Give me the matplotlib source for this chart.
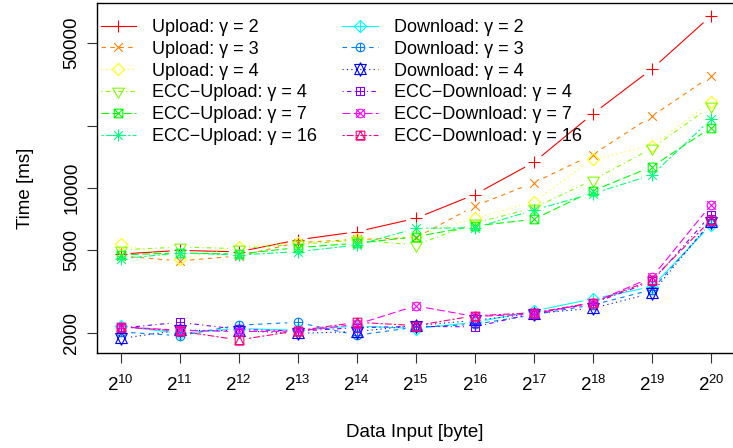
import numpy as np
import matplotlib
matplotlib.use("Agg")
import matplotlib.pyplot as plt
from matplotlib.path import Path
from matplotlib.lines import Line2D
from matplotlib.ticker import NullLocator

plt.rcParams['font.family'] = ['Liberation Sans', 'DejaVu Sans']

# data: input size exponent (bytes = 2**k) and time in ms
exponents = np.arange(10, 21)
sizes = 2.0 ** exponents

upload_g2 = [4800, 5000, 4920, 5620, 6150, 7140, 9300, 13300, 22800, 37500, 67600]
upload_g3 = [4700, 4450, 4700, 5450, 5650, 5750, 8190, 10600, 14500, 22200, 34600]
upload_g4 = [5370, 4550, 5210, 5430, 5650, 5880, 7140, 8590, 13750, 15990, 26040]
ecc_up_g4 = [5030, 5190, 5100, 5350, 5600, 5310, 6780, 8010, 10930, 15530, 24820]
ecc_up_g7 = [4760, 4860, 4800, 5160, 5410, 5820, 6560, 7060, 9700, 12670, 19520]
ecc_up_g16 = [4550, 4860, 4750, 4930, 5300, 6390, 6420, 7830, 9400, 11550, 21440]

down_g2 = [2160, 1990, 2100, 2060, 2160, 2100, 2250, 2550, 2920, 3340, 6630]
down_g3 = [2020, 1940, 2180, 2250, 1950, 2130, 2200, 2450, 2730, 3230, 6780]
down_g4 = [1880, 2060, 2050, 1990, 2030, 2170, 2300, 2480, 2630, 3110, 6880]
ecc_down_g4 = [2110, 2250, 2080, 2040, 2120, 2150, 2140, 2480, 2780, 3540, 7410]
ecc_down_g7 = [2140, 2060, 2030, 2040, 2200, 2700, 2400, 2470, 2800, 3710, 8280]
ecc_down_g16 = [2140, 2040, 1850, 2050, 2250, 2170, 2420, 2500, 2800, 3600, 7010]

labels = ["Upload: γ = 2", "Upload: γ = 3", "Upload: γ = 4",
          "ECC\u2212Upload: γ = 4", "ECC\u2212Upload: γ = 7", "ECC\u2212Upload: γ = 16",
          "Download: γ = 2", "Download: γ = 3", "Download: γ = 4",
          "ECC\u2212Download: γ = 4", "ECC\u2212Download: γ = 7", "ECC\u2212Download: γ = 16"]
series = [upload_g2, upload_g3, upload_g4, ecc_up_g4, ecc_up_g7, ecc_up_g16,
          down_g2, down_g3, down_g4, ecc_down_g4, ecc_down_g7, ecc_down_g16]

colors = ["#FF0000", "#FF8000", "#FFFF00", "#80FF00", "#00FF00", "#00FF80",
          "#00FFFF", "#0080FF", "#0000FF", "#8000FF", "#FF00FF", "#FF0080"]

# R-like line types (solid, dashed, dotted, dotdash, longdash, twodash)
ltys = ['-', (0, (4, 4)), (0, (1, 3)), (0, (1, 3, 4, 3)), (0, (7, 3)), (0, (2, 2, 6, 2))]
ltys = ltys + ltys


# R-like plotting symbols 3..14 built as paths
def mk(polys=(), lines=(), circle=False):
    verts, codes = [], []
    for poly in polys:
        verts += list(poly) + [poly[0]]
        codes += [Path.MOVETO] + [Path.LINETO] * (len(poly) - 1) + [Path.CLOSEPOLY]
    for a, b in lines:
        verts += [a, b]
        codes += [Path.MOVETO, Path.LINETO]
    p = Path(verts, codes)
    if circle:
        p = Path.make_compound_path(Path.unit_circle(), p)
    return p


s2 = np.sqrt(2)
T0, T1, T2 = 1.5551, 1.3468, 0.7776
sq = [(-1, -1), (1, -1), (1, 1), (-1, 1)]
dia = [(0, s2), (s2, 0), (0, -s2), (-s2, 0)]
plus1 = [((-1, 0), (1, 0)), ((0, -1), (0, 1))]
plus2 = [((-s2, 0), (s2, 0)), ((0, -s2), (0, s2))]
times1 = [((-1, -1), (1, 1)), ((-1, 1), (1, -1))]
yc = 0.5 * (T2 + T0)

markers = [
    (mk(lines=plus2), s2),                                   # 3
    (mk(lines=times1), 1),                                   # 4
    (mk(polys=[dia]), s2),                                   # 5
    (mk(polys=[[(0, -T0), (T1, T2), (-T1, T2)]]), T0),       # 6
    (mk(polys=[sq], lines=times1), 1),                       # 7
    (mk(lines=times1 + plus2), s2),                          # 8
    (mk(polys=[dia], lines=plus2), s2),                      # 9
    (mk(lines=plus1, circle=True), 1),                       # 10
    (mk(polys=[[(0, -T0), (T1, yc), (-T1, yc)],
               [(0, T0), (T1, -yc), (-T1, -yc)]]), T0),      # 11
    (mk(polys=[sq], lines=plus1), 1),                        # 12
    (mk(lines=times1, circle=True), 1),                      # 13
    (mk(polys=[sq, [(0, 1), (1, -1), (-1, -1)]]), 1),        # 14
]
r_pt = 3.1
lw = 0.8

fig = plt.figure(figsize=(7.33, 4.48), dpi=100)
ax = fig.add_axes([97 / 733, 95 / 448, 637.6 / 733, 350 / 448])
ax.set_xscale('log', base=2)
ax.set_yscale('log')
ax.set_xlim(2 ** 9.6, 2 ** 20.4)
ax.set_ylim(1600, 78000)

# lines with gaps around points (like R type="b")
gap = 10.5
to_data = ax.transData.inverted()
handles = []
for i, ys in enumerate(series):
    pts = ax.transData.transform(np.column_stack([sizes, ys]))
    for p0, p1 in zip(pts[:-1], pts[1:]):
        d = np.hypot(*(p1 - p0))
        if d > 2 * gap:
            a = p0 + (p1 - p0) * gap / d
            b = p1 - (p1 - p0) * gap / d
            seg = to_data.transform([a, b])
            ax.plot(seg[:, 0], seg[:, 1], color=colors[i], ls=ltys[i], lw=lw,
                    zorder=2 + i * 0.01)
    path, ext = markers[i]
    ms = 2 * ext * r_pt
    ax.plot(sizes, ys, ls='none', marker=path, ms=ms, mfc='none',
            mec=colors[i], mew=lw, zorder=2 + i * 0.01 + 0.005)
    handles.append(Line2D([], [], color=colors[i], ls=ltys[i], lw=lw, marker=path,
                          ms=ms, mfc='none', mec=colors[i], mew=lw))

ax.legend(handles, labels, ncol=2, loc='upper left', bbox_to_anchor=(0.0, 0.965),
          frameon=False, fontsize=13, handlelength=1.95, handletextpad=0.9,
          columnspacing=1.4, labelspacing=0.27, borderpad=0, borderaxespad=0.2)

ax.set_xticks(sizes)
ax.set_xticklabels([r'$\mathregular{2^{%d}}$' % k for k in exponents])
ax.set_yticks([2000, 5000, 10000, 20000, 50000])
ax.set_yticklabels(['2000', '5000', '10000', '', '50000'], rotation=90, va='center')
ax.xaxis.set_minor_locator(NullLocator())
ax.yaxis.set_minor_locator(NullLocator())
ax.tick_params(axis='both', direction='out', length=7, width=0.8, labelsize=13.5,
               color='#333333')
ax.tick_params(axis='x', pad=9)
ax.tick_params(axis='y', pad=5)
for sp in ax.spines.values():
    sp.set_linewidth(1.0)

fig.text(415 / 733, 1 - 432 / 448, 'Data Input [byte]', ha='center', va='center', fontsize=13.5)
fig.text(25 / 733, 1 - 188 / 448, 'Time [ms]', ha='center', va='center', rotation=90,
         fontsize=13.5)

fig.savefig('out.png', dpi=100)
